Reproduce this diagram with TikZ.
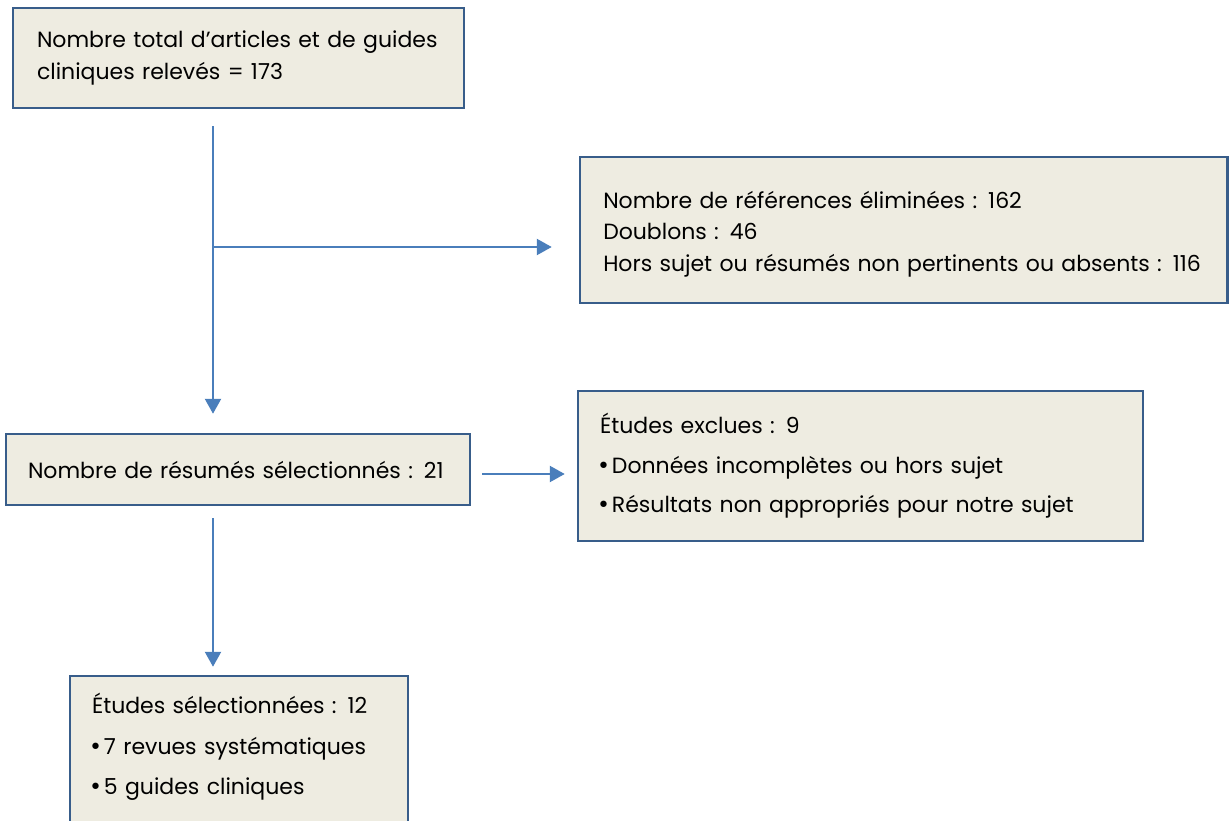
\documentclass[tikz,border=0pt]{standalone}
\usepackage{fontspec}
\setmainfont{Poppins}
\newfontfamily\dejavu{DejaVu Sans}
\usetikzlibrary{arrows.meta,calc}
\definecolor{boxblue}{HTML}{385D8A}
\definecolor{boxfill}{HTML}{EEECE1}
\definecolor{arrblue}{HTML}{4A7EBB}
\newcommand{\bul}{\hspace*{-3pt}{\dejavu •}\hspace{2pt}}
\tikzset{
  flowbox/.style={draw=boxblue, fill=boxfill, line width=2.5pt, inner sep=0pt, align=left, font=\fontsize{22}{32}\selectfont},
  flowarrow/.style={draw=arrblue, line width=2.4pt, -{Triangle[length=15pt,width=16pt]}},
}
\begin{document}
\begin{tikzpicture}[x=1pt,y=-1pt]
\useasboundingbox (0,0) rectangle (1229,821);
\clip (0,0) rectangle (1229,821);
\node[flowbox, minimum width=451pt, minimum height=100pt, text width=403pt] (b1) at (238.5,58)
  {\mbox{Nombre total d’articles et de guides}\\ \mbox{cliniques relevés = 173}};
\node[flowbox, minimum width=647.5pt, minimum height=146pt, text width=601pt, font=\fontsize{22}{31.5}\selectfont] (b2) at (903.75,230)
  {\mbox{Nombre de références éliminées : 162}\\ \mbox{Doublons : 46}\\ \mbox{Hors sujet ou résumés non pertinents ou absents : 116}\par\nointerlineskip\vspace{-8pt}\mbox{}};
\node[flowbox, minimum width=464pt, minimum height=71pt, text width=420pt] (b3) at (238,469.5)
  {\mbox{Nombre de résumés sélectionnés : 21}};
\node[flowbox, minimum width=565pt, minimum height=150pt, text width=521pt, font=\fontsize{22}{39.5}\selectfont] (b4) at (860.5,466)
  {\mbox{Études exclues : 9}\\ \mbox{\bul Données incomplètes ou hors sujet}\\ \mbox{\bul Résultats non appropriés pour notre sujet}};
\node[flowbox, minimum width=338pt, minimum height=170pt, text width=294pt, font=\fontsize{22}{40.5}\selectfont] (b5) at (239,761)
  {\mbox{Études sélectionnées : 12}\\ \mbox{\bul 7 revues systématiques}\\ \mbox{\bul 5 guides cliniques}\par\nointerlineskip\vspace{28pt}\mbox{}};
\draw[flowarrow, shorten <=17pt, shorten >=19pt] ([xshift=-25.5pt]b1.south) -- ([xshift=-25.5pt]b1.south |- b3.north);
\coordinate (j) at ([xshift=-25.5pt]b1.south |- 0,247);
\draw[flowarrow, shorten >=27pt] (j) -- (j -| b2.west);
\draw[flowarrow, shorten <=11pt, shorten >=12pt] ([yshift=-4.5pt]b3.east) -- ([yshift=-4.5pt]b3.east -| b4.west);
\draw[flowarrow, shorten <=12pt, shorten >=8pt] ([xshift=-25pt]b3.south) -- ([xshift=-25pt]b3.south |- b5.north);
\end{tikzpicture}
\end{document}
